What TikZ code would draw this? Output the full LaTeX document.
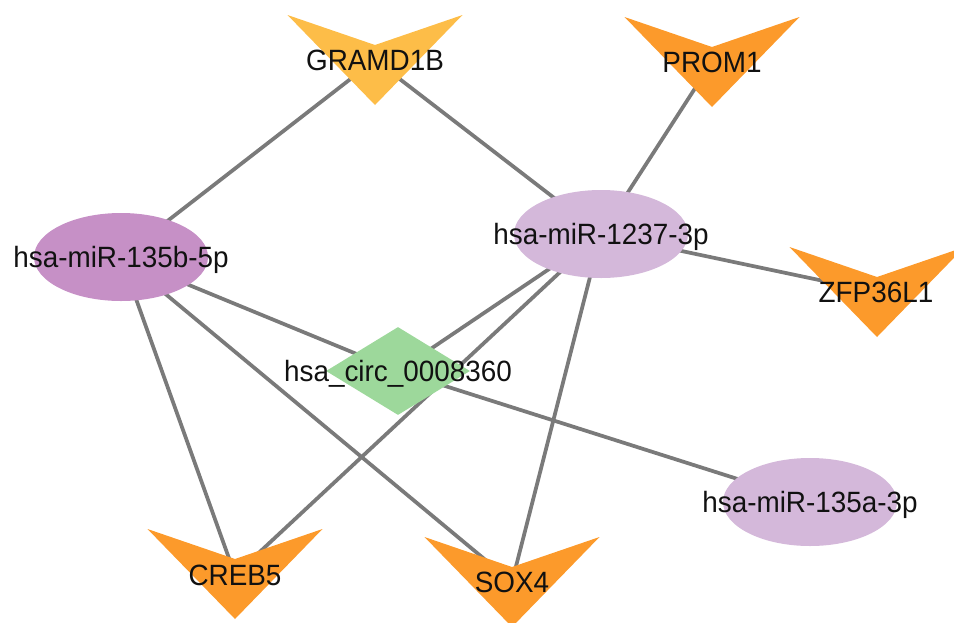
\documentclass[tikz,border=0pt]{standalone}
\usepackage{fontspec}
\usetikzlibrary{shapes.geometric}
\newfontfamily\labfont{Liberation Sans}[FakeStretch=0.95]
\definecolor{edgegray}{HTML}{7A7A7A}
\definecolor{vgold}{HTML}{FDBD48}
\definecolor{vorange}{HTML}{FC9A2B}
\definecolor{dpurple}{HTML}{C690C6}
\definecolor{lpurple}{HTML}{D4B8DA}
\definecolor{cgreen}{HTML}{9DD89B}
\definecolor{txt}{HTML}{111111}
\pgfdeclarelayer{background}
\pgfsetlayers{background,main}
\begin{document}
\begin{tikzpicture}[x=0.75pt,y=-0.75pt,
  lab/.style={font=\labfont\fontsize{22}{26}\selectfont, text=txt, inner sep=0pt, text height=15.75pt, text depth=0pt},
  mirna/.style={ellipse, inner sep=0pt, minimum width=174*0.75pt, minimum height=88*0.75pt, draw=none},
  circ/.style={diamond, inner sep=0pt, minimum width=144*0.75pt, minimum height=88*0.75pt, fill=cgreen, draw=none},
  edge/.style={draw=edgegray, line width=2.8pt}
]
\clip (0,0) rectangle (954,622);

% ellipse and diamond nodes
\node[mirna, fill=dpurple, label={[lab]center:hsa-miR-135b-5p}] (m135b) at (121,257) {};
\node[mirna, fill=lpurple, label={[lab]center:hsa-miR-1237-3p}] (m1237) at (601,234) {};
\node[mirna, fill=lpurple, label={[lab]center:hsa-miR-135a-3p}] (m135a) at (810,502) {};
\node[circ, label={[lab]center:hsa\_circ\_0008360}] (circ) at (398,371) {};

% V-shaped gene nodes
\fill[vgold] (375,60) ++(-87.5,-45) -- ++(87.5,30) -- ++(87.5,-30) -- ++(-87.5,90) -- cycle;
\node[lab] (gramd) at (375,60) {GRAMD1B};
\fill[vorange] (712,62) ++(-87.5,-45) -- ++(87.5,30) -- ++(87.5,-30) -- ++(-87.5,90) -- cycle;
\node[lab] (prom) at (712,62) {PROM1};
\fill[vorange] (877,292) ++(-87.5,-45) -- ++(87.5,30) -- ++(87.5,-30) -- ++(-87.5,90) -- cycle;
\node[lab] (zfp) at (876,292) {ZFP36L1};
\fill[vorange] (235,574) ++(-87.5,-45) -- ++(87.5,30) -- ++(87.5,-30) -- ++(-87.5,90) -- cycle;
\node[lab] (creb) at (235,575) {CREB5};
\fill[vorange] (512,582) ++(-87.5,-45) -- ++(87.5,30) -- ++(87.5,-30) -- ++(-87.5,90) -- cycle;
\node[lab] (sox) at (512,582) {SOX4};

% edges
\begin{pgfonlayer}{background}
\draw[edge] (gramd.center) -- (m135b.center);
\draw[edge] (gramd.center) -- (m1237.center);
\draw[edge] (prom.center) -- (m1237.center);
\draw[edge] (m1237.center) -- (zfp.center);
\draw[edge] (m135b.center) -- (circ.center);
\draw[edge] (m135b.center) -- (creb.center);
\draw[edge] (m135b.center) -- (sox.center);
\draw[edge] (m1237.center) -- (circ.center);
\draw[edge] (m1237.center) -- (creb.center);
\draw[edge] (m1237.center) -- (sox.center);
\draw[edge] (circ.center) -- (m135a.center);
\end{pgfonlayer}
\end{tikzpicture}
\end{document}
